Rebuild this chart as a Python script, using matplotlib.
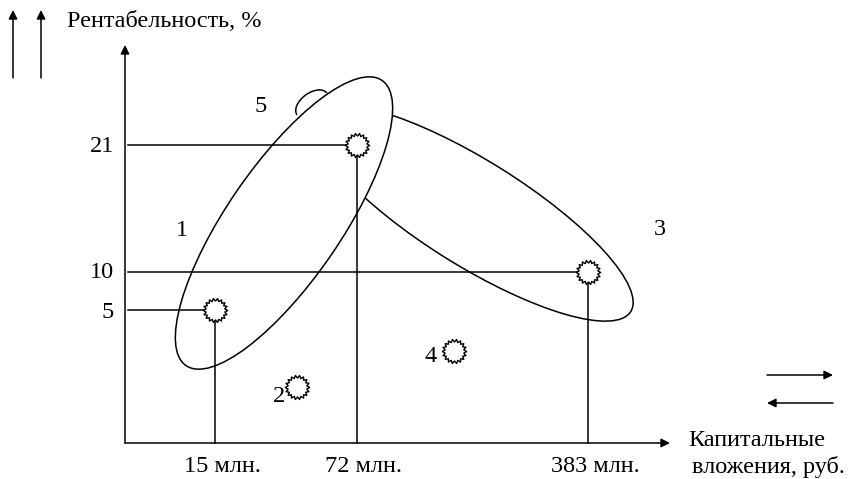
import numpy as np
import matplotlib
matplotlib.use("Agg")
import matplotlib.pyplot as plt
from matplotlib.patches import Ellipse, Arc
from matplotlib.path import Path

# ---- data (schematic, not to scale) ----
capital_ticks = ["15 млн.", "72 млн.", "383 млн."]
profit_ticks = ["5", "10", "21"]
# schematic positions of the tick values along the axes
capital_pos = [90, 232, 463]
profit_pos = [133, 171, 298]

# projects with guide lines: (capital index, profit index)
point_cap_idx = [0, 1, 2]
point_prof_idx = [0, 2, 1]

# other projects (labels 2 and 4), schematic positions
extra_labels = ["2", "4"]
extra_x = [172, 329]
extra_y = [56, 92]

# groups
group_labels = ["1", "3", "5"]

FONT = ["Liberation Serif", "DejaVu Serif"]
fs = 17.5
LW = 1.1

fig = plt.figure(figsize=(8.5, 4.79), dpi=100)
ax = fig.add_axes([0, 0, 1, 1])
ax.set_xlim(-125, 725)
ax.set_ylim(-36, 443)
ax.axis("off")

# starburst marker
n_teeth = 18
ang = np.linspace(0, 2 * np.pi, 2 * n_teeth + 1)
rad = np.where(np.arange(2 * n_teeth + 1) % 2 == 0, 1.0, 0.78)
verts = np.column_stack([rad * np.cos(ang), rad * np.sin(ang)])
star = Path(verts, closed=True)

# group outlines
e3 = Ellipse((348, 230), 372, 105, angle=-32, fill=False, lw=LW, ec="black", zorder=1)
ax.add_patch(e3)
e1 = Ellipse((159, 220), 346, 114, angle=55.5, fc="white", lw=LW, ec="black", zorder=2)
ax.add_patch(e1)
bump = Arc((187, 339), 37, 22, angle=36.3, theta1=0, theta2=180, lw=LW, color="black", zorder=2)
ax.add_patch(bump)

# axes arrows
ap = dict(arrowstyle="-|>", lw=LW, color="black", mutation_scale=13, shrinkA=0, shrinkB=0)
ax.annotate("", xy=(0, 398), xytext=(0, 0), arrowprops=ap, zorder=3)
ax.annotate("", xy=(545, 0), xytext=(0, 0), arrowprops=ap, zorder=3)

# guide lines and markers
for ci, pi in zip(point_cap_idx, point_prof_idx):
    x = capital_pos[ci]
    y = profit_pos[pi]
    ax.plot([3, x], [y, y], color="black", lw=LW, zorder=3)
    ax.plot([x, x], [0, y], color="black", lw=LW, zorder=3)
    ax.plot([x], [y], marker=star, ms=17.5, mfc="white", mec="black", mew=1.0, zorder=4)

label_dx = [-18, -23]
for lab, x, y, dx in zip(extra_labels, extra_x, extra_y, label_dx):
    ax.plot([x], [y], marker=star, ms=17.5, mfc="white", mec="black", mew=1.0, zorder=4)
    ax.text(x + dx, y - 10 if lab == "2" else y - 6, lab, fontsize=fs, family=FONT,
            ha="center", va="center")

# tick labels
for lab, y in zip(profit_ticks, profit_pos):
    ax.text(-11, y - 3 if lab == "5" else y - 1, lab, fontsize=fs, family=FONT,
            ha="right", va="center")
for lab, x in zip(capital_ticks, capital_pos):
    ax.text(x + 7, -24, lab, fontsize=fs, family=FONT, ha="center", va="center")

# group labels
ax.text(57, 213, group_labels[0], fontsize=fs, family=FONT, ha="center", va="center")
ax.text(535, 214, group_labels[1], fontsize=fs, family=FONT, ha="center", va="center")
ax.text(136, 337, group_labels[2], fontsize=fs, family=FONT, ha="center", va="center")

# axis titles
ax.text(-58, 422, "Рентабельность, %", fontsize=fs, family=FONT, ha="left", va="center")
ax.text(563, 2, "Капитальные", fontsize=fs, family=FONT, ha="left", va="center")
ax.text(567, -24, "вложения, руб.", fontsize=fs, family=FONT, ha="left", va="center")

# direction arrows
ax.annotate("", xy=(-112, 433), xytext=(-112, 365), arrowprops=ap)
ax.annotate("", xy=(-84, 433), xytext=(-84, 365), arrowprops=ap)
ax.annotate("", xy=(708, 68), xytext=(642, 68), arrowprops=ap)
ax.annotate("", xy=(642, 40), xytext=(708, 40), arrowprops=ap)

fig.savefig("out.png", dpi=100)
